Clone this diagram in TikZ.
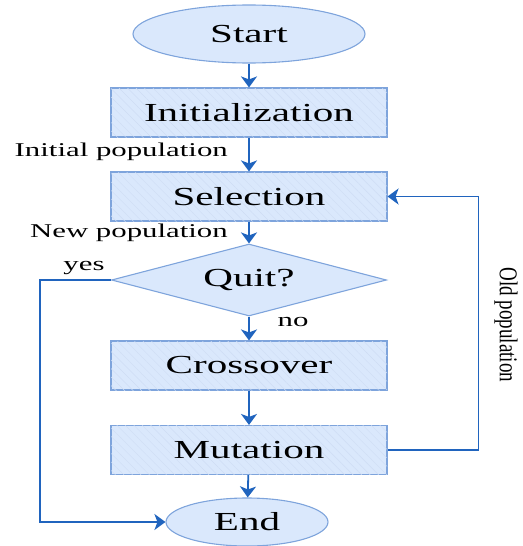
\documentclass[tikz,border=0pt]{standalone}
\usepackage{fontspec}
\setmainfont{Liberation Serif}[FakeStretch=1.58]
\newfontfamily\sidefont{Liberation Serif}
\usetikzlibrary{shapes.geometric,arrows.meta,patterns.meta}
\definecolor{boxfill}{RGB}{218,232,252}
\definecolor{boxline}{RGB}{126,164,220}
\definecolor{flow}{RGB}{32,100,190}
\definecolor{hatch}{RGB}{206,221,244}
\tikzset{%
  stepbox/.style={draw=boxline,fill=boxfill,line width=1.1pt,
    minimum width=276pt,minimum height=49pt,inner sep=0pt,
    font=\fontsize{26}{28}\selectfont,
    postaction={pattern={Lines[angle=-45,distance=6pt,line width=0.4pt]},
      pattern color=hatch}},%
  termbox/.style={ellipse,draw=boxline,fill=boxfill,line width=1.1pt,
    inner sep=0pt,font=\fontsize{26}{28}\selectfont},%
  quitbox/.style={diamond,draw=boxline,fill=boxfill,line width=1.1pt,
    minimum width=275pt,minimum height=72pt,inner sep=0pt,aspect=3.8,
    font=\fontsize{26}{28}\selectfont},%
  flowline/.style={draw=flow,line width=1.8pt,
    -{Stealth[length=11pt,width=16pt,inset=3pt]}},%
  note/.style={inner sep=0pt,font=\fontsize{19.5}{21}\selectfont}%
}
\begin{document}
\begin{tikzpicture}[x=1pt,y=-1pt]%
  \useasboundingbox (0,0) rectangle (522,546);%
  % boxes down the middle
  \node[termbox,minimum width=232pt,minimum height=58pt] (start) at (249,34) {Start};%
  \node[stepbox] (init) at (249,112.5) {Initialization};%
  \node[stepbox] (sel) at (249,196.5) {Selection};%
  \node[quitbox] (quit) at (249,280) {Quit?};%
  \node[stepbox] (cross) at (249,365.5) {Crossover};%
  \node[stepbox] (mut) at (249,450) {Mutation};%
  \node[termbox,minimum width=162pt,minimum height=48pt] (end) at (247,522) {End};%

  % labels
  \node[note,anchor=east] (initpop) at (228,152) {Initial population};%
  \node[note,anchor=east] (newpop) at (228,233) {New population};%
  \node[note] (yes) at (84,268) {yes};%
  \node[note] (no) at (293,322) {no};%
  \node[inner sep=0pt,rotate=-90,font=\sidefont\fontsize{19}{20}\selectfont]
    (oldpop) at (506,325) {\scalebox{1}[1.35]{Old population}};%

  % connectors
  \draw[flowline] (start)--(init);%
  \draw[flowline] (init)--(sel);%
  \draw[flowline] (sel)--(quit);%
  \draw[flowline] (quit)--(cross);%
  \draw[flowline] (cross)--(mut);%
  \draw[flowline] (mut)--(end);%
  \draw[flowline] (quit.west)--++(-71,0) |- (end.west);% yes branch
  \draw[flowline] (mut.east)--++(91,0) |- (sel.east);% loop back
\end{tikzpicture}
\end{document}
